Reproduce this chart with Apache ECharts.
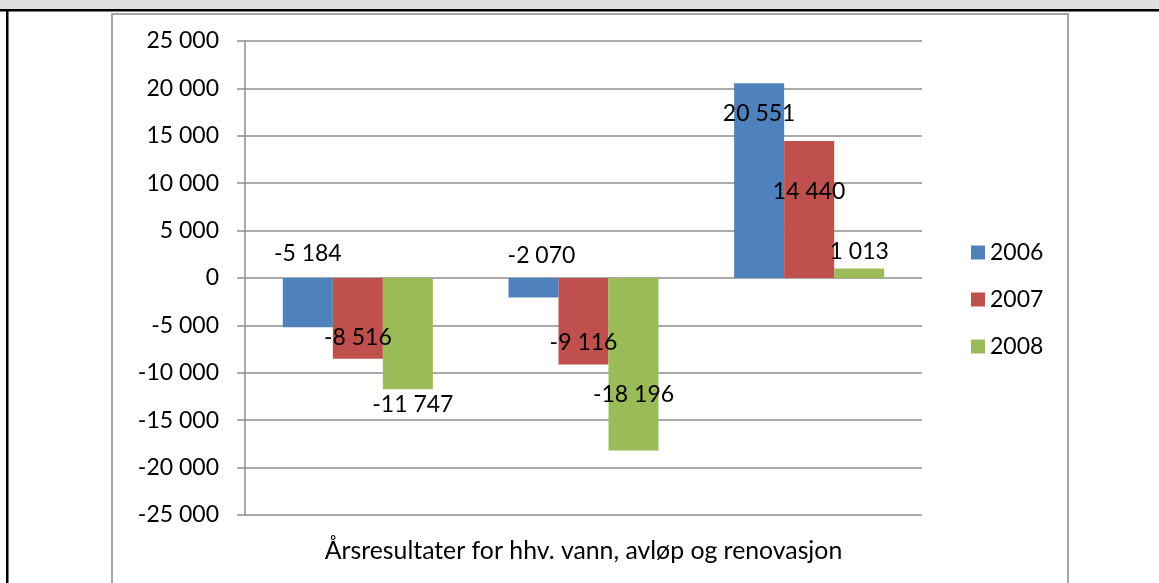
<!DOCTYPE html>
<html>
<head>
<meta charset="utf-8">
<script src="https://cdn.jsdelivr.net/npm/echarts@6/dist/echarts.min.js"></script>
<style>
  html, body { margin: 0; padding: 0; background: #fff; }
  #chart { width: 1159px; height: 583px; }
</style>
</head>
<body>
<div id="chart"></div>
<script>
// data
const categories = ['vann', 'avløp', 'renovasjon']
const axisTitle = 'Årsresultater for hhv. vann, avløp og renovasjon'
const seriesNames = ['2006', '2007', '2008']
const values2006 = [-5184, -2070, 20551]
const values2007 = [-8516, -9116, 14440]
const values2008 = [-11747, -18196, 1013]
const yTicks = { min: -25000, max: 25000, interval: 5000 }

// where Excel dropped each data label (position, distance, x shift)
const labelPlace = [
  [['top', 13, 0], ['top', 11, 8], ['insideTop', 19, 0]],
  [['insideBottom', 10, 0], ['insideBottom', 10, 0], ['insideTop', 39, 0]],
  [['bottom', 4, 5], ['insideBottom', 44, 0], ['top', 5, 0]]
]
const colors = ['#4f81bd', '#c0504d', '#9bbb59']
const FONT = 'Lato'

const fmt = (v) => {
  const s = String(Math.abs(v)).replace(/\B(?=(\d{3})+(?!\d))/g, ' ')
  return (v < 0 ? '-' : '') + s
}

const allValues = [values2006, values2007, values2008]

const series = allValues.map((vals, si) => ({
  name: seriesNames[si],
  type: 'bar',
  barGap: '0%',
  barCategoryGap: '33.5%',
  itemStyle: { color: colors[si] },
  data: vals.map((v, ci) => {
    const p = labelPlace[si][ci]
    return {
      value: v,
      label: { position: p[0], distance: p[1], offset: [p[2], 0] }
    }
  }),
  label: {
    show: true,
    color: '#000',
    fontFamily: FONT,
    fontSize: 23,
    formatter: (arg) => fmt(arg.value)
  }
}))

const chart = echarts.init(document.getElementById('chart'))
chart.setOption({
  animation: false,
  backgroundColor: '#fff',
  color: colors,
  textStyle: { fontFamily: FONT },
  graphic: [
    { type: 'rect', shape: { x: 0, y: 0, width: 1159, height: 9 }, style: { fill: '#e0e0e0' }, silent: true },
    { type: 'rect', shape: { x: 0, y: 9, width: 1159, height: 2.5 }, style: { fill: '#000' }, silent: true },
    { type: 'rect', shape: { x: 6, y: 9, width: 2.5, height: 580 }, style: { fill: '#000' }, silent: true },
    { type: 'rect', shape: { x: 112, y: 14, width: 956, height: 600 }, style: { fill: 'none', stroke: '#a6a6a6', lineWidth: 2 }, silent: true }
  ],
  grid: { left: 245, right: 237, top: 41, bottom: 68 },
  legend: {
    orient: 'vertical',
    left: 966,
    top: 236,
    itemWidth: 14,
    itemHeight: 14,
    itemGap: 24,
    icon: 'rect',
    textStyle: { fontFamily: FONT, fontSize: 23, color: '#000' },
    data: seriesNames
  },
  xAxis: {
    type: 'category',
    data: categories,
    name: axisTitle,
    nameLocation: 'middle',
    nameGap: 24,
    nameTextStyle: { fontFamily: FONT, fontSize: 24.8, color: '#000' },
    axisLine: { show: false },
    axisTick: { show: false },
    axisLabel: { show: false },
    splitLine: { show: false }
  },
  yAxis: {
    type: 'value',
    min: yTicks.min,
    max: yTicks.max,
    interval: yTicks.interval,
    axisLine: { show: true, lineStyle: { color: '#8e8e8e', width: 1.5 } },
    axisTick: { show: true, length: 8, lineStyle: { color: '#8e8e8e', width: 1.5 } },
    axisLabel: {
      margin: 26,
      fontFamily: FONT,
      fontSize: 23,
      color: '#000',
      formatter: fmt
    },
    splitLine: { lineStyle: { color: '#8e8e8e', width: 1.5 } }
  },
  series: series
})
</script>
</body>
</html>
